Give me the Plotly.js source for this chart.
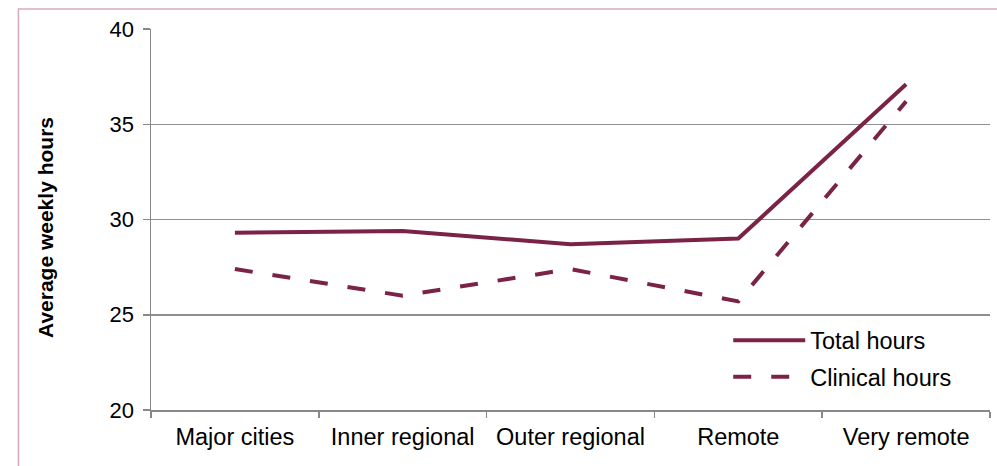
<!DOCTYPE html>
<html>
<head>
<meta charset="utf-8">
<script src="https://cdn.plot.ly/plotly-3.0.1.min.js"></script>
<style>html,body{margin:0;padding:0;background:#fff;}#chart{width:997px;height:466px;}</style>
</head>
<body>
<div id="chart"></div>
<script>
var categories = ["Major cities", "Inner regional", "Outer regional", "Remote", "Very remote"];
var totalHours = [29.3, 29.4, 28.7, 29.0, 37.1];
var clinicalHours = [27.4, 26.0, 27.4, 25.7, 36.2];
var seriesNames = ["Total hours", "Clinical hours"];
var yTicks = [20, 25, 30, 35, 40];
var yTitle = "Average weekly hours";

var lineColor = "#7b2347";
var font = "Liberation Sans, Arial, sans-serif";

var traces = [
  {x: categories, y: totalHours, name: seriesNames[0], type: "scatter", mode: "lines",
   line: {color: lineColor, width: 4}, legendgroup: "a"},
  {x: categories, y: clinicalHours, name: seriesNames[1], type: "scatter", mode: "lines",
   line: {color: lineColor, width: 4, dash: "18px,20px"}, legendgroup: "b"}
];

var layout = {
  width: 997, height: 466,
  margin: {l: 151, r: 7, t: 29, b: 56},
  paper_bgcolor: "#fff", plot_bgcolor: "#fff",
  font: {family: font, size: 22, color: "#000"},
  showlegend: true,
  legend: {x: 0.688, y: 0.134, xanchor: "left", yanchor: "middle", bgcolor: "rgba(0,0,0,0)",
           font: {size: 23.5}, itemwidth: 72, traceorder: "grouped", tracegroupgap: 3},
  xaxis: {type: "category", range: [-0.5, 4.5], showline: true, linecolor: "#888", linewidth: 1.5,
          ticks: "outside", tickson: "boundaries", ticklen: 6, tickcolor: "#888", tickwidth: 1.5,
          showgrid: false, zeroline: false, tickfont: {size: 23.5}, ticklabelstandoff: 5},
  yaxis: {range: [20, 40], tickvals: yTicks, ticktext: yTicks.map(String),
          showline: true, linecolor: "#888", linewidth: 1.5,
          ticks: "outside", ticklen: 7, tickcolor: "#888", tickwidth: 1.5,
          showgrid: true, gridcolor: "#8f8f8f", gridwidth: 1.5, zeroline: false,
          tickfont: {size: 22}, ticklabelstandoff: 4},
  annotations: [
    {text: "<b>" + yTitle + "</b>", xref: "paper", yref: "paper", x: -0.125, y: 0.478,
     xanchor: "center", yanchor: "middle", textangle: -90, showarrow: false,
     font: {size: 21, color: "#000"}}
  ],
  shapes: [
    {type: "rect", xref: "paper", yref: "paper", x0: -0.158, x1: 1.05, y0: -0.2, y1: 1.0525,
     line: {color: "#d9a9bb", width: 1.5}, fillcolor: "rgba(0,0,0,0)", layer: "below"}
  ]
};

Plotly.newPlot("chart", traces, layout, {displayModeBar: false, staticPlot: true});
</script>
</body>
</html>
